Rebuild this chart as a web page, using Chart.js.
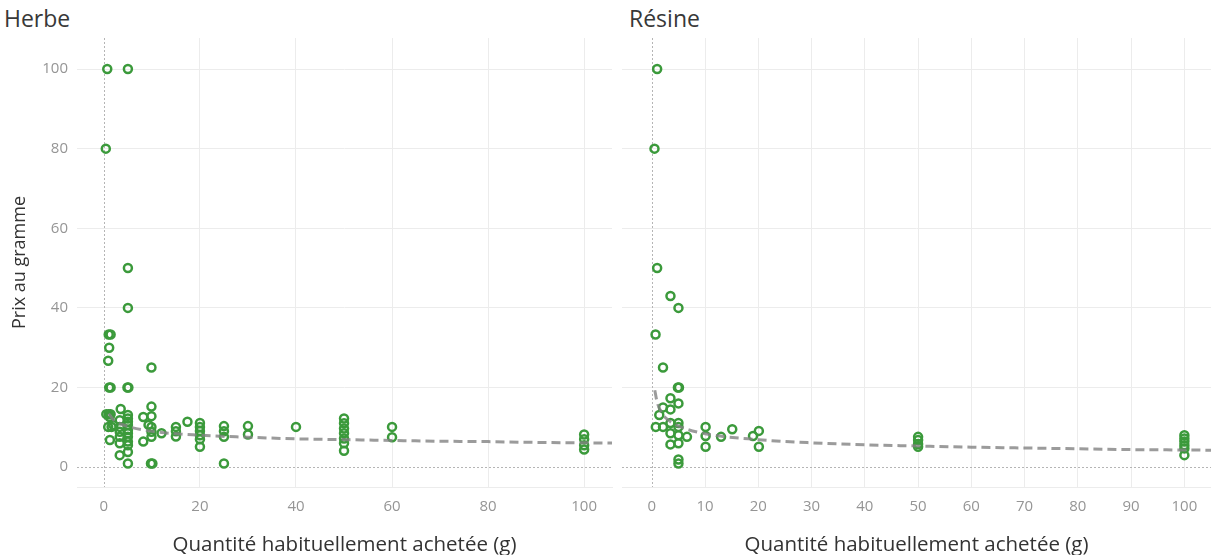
<!DOCTYPE html>
<html>
<head>
<meta charset="utf-8">
<script src="https://cdn.jsdelivr.net/npm/chart.js@4/dist/chart.umd.min.js"></script>
<style>
  body { margin: 0; background: #fff; font-family: 'Open Sans', sans-serif; }
  #wrap { position: relative; width: 1211px; height: 555px; overflow: hidden; }
  .panel { position: absolute; top: 0; height: 555px; }
  .titre { position: absolute; top: 2px; font-size: 23px; color: #383838; }
</style>
</head>
<body>
<div id="wrap">
  <div class="titre" style="left:4px">Herbe</div>
  <div class="titre" style="left:629px">Résine</div>
  <div class="panel" style="left:0; width:616px"><canvas id="grafico1"></canvas></div>
  <div class="panel" style="left:612px; width:599px"><canvas id="grafico2"></canvas></div>
</div>
<script>
// Herbe : quantité (g) et prix au gramme
const herbeX = [0.7, 5, 0.4, 5, 5, 1, 1.4, 1.1, 0.9, 1.1, 1.4, 4.9, 5.1, 9.9,
  0.5, 1, 1.4, 1.2, 3.5, 0.9, 1.6, 2, 1.25,
  3.3, 3.3, 3.3, 3.3, 3.3, 3.3,
  5, 5, 5, 5, 5, 5, 5, 5, 5, 5, 5,
  8.2, 8.2, 9.9, 9.9, 9.3, 9.9, 9.9, 9.9, 9.8, 10.1,
  12, 15, 15, 15, 17.4,
  20, 20, 20, 20, 20, 20,
  25, 25, 25, 25,
  30, 30, 40,
  50, 50, 50, 50, 50, 50, 50,
  60, 60,
  100, 100, 100, 100];
const herbeY = [100, 100, 80, 50, 40, 33.3, 33.3, 30, 26.7, 20, 20, 20, 20, 25,
  13.3, 13.3, 13.3, 12.6, 14.6, 10.1, 10.1, 10.5, 6.8,
  11.8, 10.1, 8.9, 7.6, 6.0, 3.0,
  13.1, 12.2, 11.4, 10.6, 9.3, 8.5, 7.6, 6.4, 5.5, 3.8, 0.9,
  12.6, 6.4, 15.2, 12.8, 10.6, 10.1, 8.9, 7.6, 0.9, 0.9,
  8.5, 10.1, 9.0, 7.7, 11.4,
  11.1, 10.1, 9.1, 8.0, 7.0, 5.1,
  10.3, 9.0, 7.6, 0.9,
  10.3, 8.2, 10.1,
  12.2, 11.0, 9.7, 8.5, 7.2, 6.0, 4.1,
  10.1, 7.5,
  8.2, 7.0, 5.5, 4.4];

// Résine : quantité (g) et prix au gramme
const resineX = [1, 0.5, 1, 3.5, 5, 0.7, 2.1, 4.9, 5.1, 3.5, 5, 2.1, 3.5, 1.4,
  0.75, 2.1, 3.5, 5, 5, 3.5, 5, 6.6, 3.5, 5, 5, 5,
  10.1, 10.1, 10.1, 13, 15.1, 19, 20.1, 20.1,
  50, 50, 50, 50,
  100, 100, 100, 100, 100, 100];
const resineY = [100, 80, 50, 43, 40, 33.3, 25, 20, 20, 17.3, 16, 15, 14.5, 13.1,
  10.1, 10.1, 11.1, 11.1, 10.1, 8.5, 8.0, 7.6, 5.7, 6.0, 1.9, 0.9,
  10.1, 7.8, 5.1, 7.6, 9.5, 7.8, 9.1, 5.1,
  7.6, 6.8, 5.8, 5.1,
  8.0, 7.2, 6.4, 5.5, 4.7, 3.0];

// courbes de tendance
const herbeTendX = [1, 2, 3, 5, 10, 20, 30, 40, 50, 60, 70, 80, 90, 100, 105.8];
const herbeTendY = [13.4, 11.9, 11.1, 10.2, 9.0, 8.0, 7.5, 7.1, 6.9, 6.7, 6.5, 6.4, 6.2, 6.1, 6.05];
const resineTendX = [0.56, 1, 2, 3, 5, 10, 20, 30, 40, 50, 60, 70, 80, 90, 100, 105];
const resineTendY = [19.3, 16.3, 13.4, 11.9, 10.3, 8.4, 6.9, 6.1, 5.6, 5.3, 5.0, 4.8, 4.6, 4.4, 4.3, 4.25];

// graduations
const herbeTicks = [0, 20, 40, 60, 80, 100];
const resineTicks = [0, 10, 20, 30, 40, 50, 60, 70, 80, 90, 100];
const prixTicks = [0, 20, 40, 60, 80, 100];

const police = "'Open Sans', sans-serif";
const vert = '#3b9a3b';

function points(xs, ys) {
  return xs.map((x, i) => ({ x: x, y: ys[i] }));
}

// lignes zéro en pointillé
const lignesZero = {
  id: 'lignesZero',
  beforeDatasetsDraw(chart) {
    const { ctx, chartArea, scales } = chart;
    const x0 = scales.x.getPixelForValue(0);
    const y0 = scales.y.getPixelForValue(0);
    ctx.save();
    ctx.strokeStyle = '#b5b5b5';
    ctx.lineWidth = 1;
    ctx.setLineDash([2, 2]);
    ctx.beginPath();
    ctx.moveTo(Math.round(x0) + 0.5, chartArea.top);
    ctx.lineTo(Math.round(x0) + 0.5, chartArea.bottom);
    ctx.moveTo(chartArea.left, Math.round(y0) + 0.5);
    ctx.lineTo(chartArea.right, Math.round(y0) + 0.5);
    ctx.stroke();
    ctx.restore();
  }
};

function grille(ctx) {
  return ctx.tick && ctx.tick.value === 0 ? 'rgba(0,0,0,0)' : '#ececec';
}

function faireGraphique(id, xs, ys, tx, ty, xTicks, xMin, xMax, avecAxeY) {
  return new Chart(document.getElementById(id), {
    data: {
      datasets: [
        {
          type: 'line',
          data: points(tx, ty),
          borderColor: 'rgba(130,130,130,0.8)',
          borderWidth: 3,
          borderDash: [9, 5],
          pointRadius: 0,
          cubicInterpolationMode: 'monotone',
          fill: false,
          order: 0
        },
        {
          type: 'scatter',
          data: points(xs, ys),
          borderColor: vert,
          backgroundColor: 'rgba(0,0,0,0)',
          borderWidth: 2.5,
          pointRadius: 4,
          order: 1
        }
      ]
    },
    options: {
      responsive: true,
      maintainAspectRatio: false,
      animation: false,
      layout: {
        autoPadding: false,
        padding: { left: avecAxeY ? 5 : 10, right: avecAxeY ? 4 : 0, top: 38, bottom: 0 }
      },
      plugins: { legend: { display: false }, tooltip: { enabled: false } },
      scales: {
        x: {
          type: 'linear',
          min: xMin,
          max: xMax,
          afterBuildTicks: (s) => { s.ticks = xTicks.map(v => ({ value: v })); },
          afterFit: (s) => { s.height = 68; s.paddingLeft = 0; s.paddingRight = 0; },
          grid: { color: grille, drawTicks: false },
          border: { display: true, color: '#ececec' },
          ticks: { padding: 11, color: '#959595', font: { family: police, size: 15 } },
          title: {
            display: true,
            text: 'Quantité habituellement achetée (g)',
            color: '#333',
            font: { family: police, size: 20.5, lineHeight: 1 },
            padding: { top: 0, bottom: 0 }
          }
        },
        y: {
          type: 'linear',
          min: -5,
          max: 107.8,
          afterBuildTicks: (s) => { s.ticks = prixTicks.map(v => ({ value: v })); },
          afterFit: (s) => { s.width = avecAxeY ? 72 : 0; },
          grid: { color: grille, drawTicks: false },
          border: { display: false },
          ticks: { display: avecAxeY, padding: 9, color: '#959595', font: { family: police, size: 15 } },
          title: {
            display: avecAxeY,
            text: 'Prix au gramme',
            color: '#333',
            font: { family: police, size: 18 },
            padding: { top: 4, bottom: 0 }
          }
        }
      }
    },
    plugins: [lignesZero]
  });
}

faireGraphique('grafico1', herbeX, herbeY, herbeTendX, herbeTendY, herbeTicks, -5.6, 105.8, true);
faireGraphique('grafico2', resineX, resineY, resineTendX, resineTendY, resineTicks, -5.6, 105, false);
</script>
</body>
</html>
